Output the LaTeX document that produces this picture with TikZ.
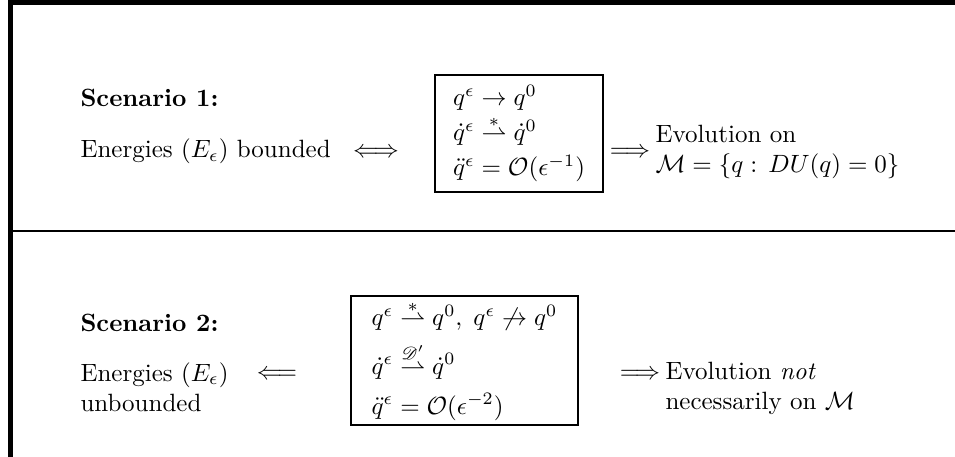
\documentclass[tikz,border=0pt]{standalone}
\usepackage{amsmath,amssymb}
\usepackage{mathrsfs}
\usetikzlibrary{positioning}

\begin{document}
\begin{tikzpicture}[
  x=0.4pt, y=-0.4pt,
  frame/.style={line width=2pt},
  rule/.style={line width=1.1pt},
  conds/.style={draw, line width=0.9pt, align=left, inner sep=0pt},
  txt/.style={align=left, inner sep=0pt},
  head/.style={txt, font=\bfseries},
]
\useasboundingbox (0,0) rectangle (955,457);

% frame and separating rule
\draw[frame] (10,457) -- (10,2.5) -- (955,2.5);
\draw[rule] (11,231) -- (955,231);

% scenario 1
\node[head, anchor=base west] (sc1) at (80,107) {Scenario 1:};
\node[txt, anchor=base west] (en1) at (80,158) {Energies $(E_\epsilon)$ bounded};
\node[conds, minimum width=67.2pt, minimum height=46.8pt] (box1) at (519,133.5)
  {$q^\epsilon \to q^0$\\[2pt]
   $\dot q^\epsilon \overset{*}{\rightharpoonup} \dot q^0$\\[2pt]
   $\ddot q^\epsilon = \mathcal{O}(\epsilon^{-1})$};
\node[txt, anchor=base] (iff1) at (376,158) {$\Longleftrightarrow$};
\node[txt, anchor=base] (imp1) at (630,158) {$\Longrightarrow$};
\node[txt, anchor=west] (ev1) at (655,152)
  {Evolution on\\ $\mathcal{M}=\{q:\,DU(q)=0\}$};

% scenario 2
\node[head, anchor=base west] (sc2) at (80,332) {Scenario 2:};
\node[txt, anchor=north west] (en2) at (80,362) {Energies $(E_\epsilon)$\\ unbounded};
\node[txt, anchor=base] (iff2) at (277,380) {$\Longleftarrow$};
\node[conds, minimum width=90.8pt, minimum height=51.6pt] (box2) at (464.5,360.5)
  {$q^\epsilon \overset{*}{\rightharpoonup} q^0,\; q^\epsilon \not\to q^0$\\[4pt]
   $\dot q^\epsilon \overset{\mathscr{D}'}{\rightharpoonup} \dot q^0$\\[4pt]
   $\ddot q^\epsilon = \mathcal{O}(\epsilon^{-2})$};
\node[txt, anchor=base] (imp2) at (640,380) {$\Longrightarrow$};
\node[txt, anchor=north west] (ev2) at (665,362)
  {Evolution \emph{not}\\ necessarily on $\mathcal{M}$};
\end{tikzpicture}
\end{document}
